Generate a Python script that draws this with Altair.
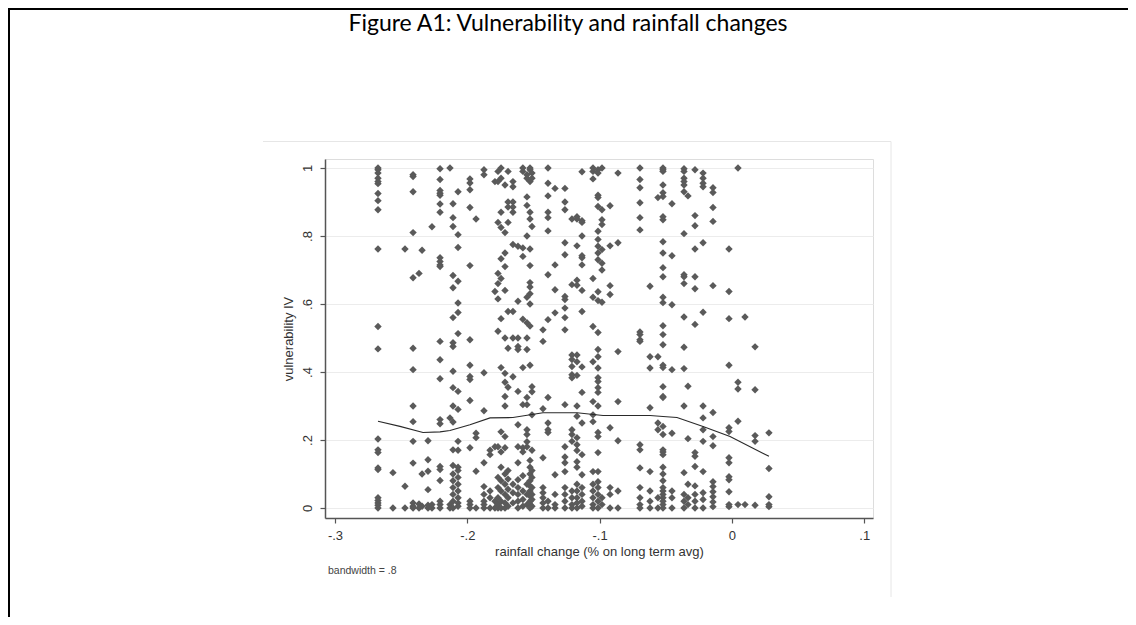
import altair as alt
import pandas as pd

# ---- scatter data: x position of each column of points and the vulnerability values in it
col_x = [-0.2675, -0.2562, -0.2471, -0.2410, -0.2365, -0.2342, -0.2297, -0.2267, -0.2206,
         -0.2131, -0.2108, -0.2070, -0.1980, -0.1934, -0.1874, -0.1828, -0.1791,
         -0.1768, -0.1745, -0.1715, -0.1692, -0.1655, -0.1617, -0.1580, -0.1549,
         -0.1526, -0.1511, -0.1428, -0.1390, -0.1337, -0.1262, -0.1209, -0.1171,
         -0.1133, -0.1050, -0.1012, -0.0982, -0.0921, -0.0861, -0.0695, -0.0619,
         -0.0559, -0.0521, -0.0453, -0.0362, -0.0332, -0.0279, -0.0218, -0.0143,
         -0.0022, 0.0046, 0.0099, 0.0175, 0.0280]

col_y = [
    [1.0, 0.995, 0.985, 0.97, 0.96, 0.954, 0.925, 0.904, 0.877, 0.762, 0.534, 0.468, 0.203, 0.171, 0.163, 0.118, 0.113, 0.03, 0.022, 0.015, 0.008, 0.0],
    [0.104, 0.0],
    [0.762, 0.064, 0.0],
    [0.98, 0.975, 0.93, 0.81, 0.677, 0.47, 0.407, 0.30, 0.254, 0.196, 0.132, 0.015, 0.005, 0.0],
    [0.69, 0.012, 0.0],
    [0.758, 0.10, 0.005],
    [0.198, 0.142, 0.108, 0.054, 0.0, 0.008],
    [0.827, 0.0, 0.01],
    [0.998, 0.966, 0.934, 0.926, 0.92, 0.894, 0.87, 0.736, 0.725, 0.715, 0.71, 0.49, 0.436, 0.38, 0.26, 0.248, 0.122, 0.113, 0.081, 0.02, 0.01, 0.0],
    [1.0, 0.265, 0.01, 0.0],
    [0.895, 0.854, 0.828, 0.684, 0.648, 0.56, 0.486, 0.475, 0.402, 0.354, 0.30, 0.253, 0.171, 0.125, 0.10, 0.08, 0.06, 0.04, 0.02, 0.0],
    [0.93, 0.804, 0.766, 0.667, 0.603, 0.575, 0.513, 0.343, 0.29, 0.196, 0.17, 0.12, 0.11, 0.09, 0.07, 0.05, 0.03, 0.015, 0.005],
    [0.968, 0.956, 0.936, 0.884, 0.713, 0.495, 0.42, 0.387, 0.378, 0.316, 0.177, 0.02, 0.01, 0.0],
    [0.85, 0.22, 0.207, 0.108, 0.0],
    [0.995, 0.98, 0.398, 0.286, 0.133, 0.063, 0.04, 0.02, 0.0, 0.01],
    [0.17, 0.157, 0.05, 0.03, 0.0],
    [0.96, 0.637, 0.18, 0.02, 0.0],
    [0.99, 0.96, 0.84, 0.69, 0.66, 0.615, 0.52, 0.18, 0.09, 0.06, 0.03, 0.01, 0.0],
    [1.0, 0.97, 0.87, 0.825, 0.733, 0.675, 0.557, 0.413, 0.224, 0.165, 0.12, 0.08, 0.05, 0.02, 0.0],
    [0.95, 0.81, 0.75, 0.71, 0.64, 0.5, 0.396, 0.37, 0.328, 0.3, 0.21, 0.177, 0.10, 0.07, 0.04, 0.015, 0.0],
    [0.99, 0.9, 0.885, 0.84, 0.578, 0.47, 0.355, 0.11, 0.085, 0.055, 0.03, 0.005],
    [0.9, 0.885, 0.87, 0.96, 0.945, 0.775, 0.578, 0.5, 0.386, 0.07, 0.045, 0.015],
    [0.77, 0.608, 0.5, 0.475, 0.466, 0.343, 0.245, 0.18, 0.133, 0.083, 0.06, 0.04, 0.02, 0.0],
    [1.0, 0.99, 0.765, 0.74, 0.555, 0.413, 0.304, 0.177, 0.165, 0.095, 0.05, 0.025, 0.005],
    [0.98, 0.97, 0.915, 0.89, 0.8, 0.62, 0.545, 0.5, 0.466, 0.325, 0.304, 0.23, 0.216, 0.195, 0.18, 0.07, 0.04, 0.01],
    [1.0, 0.995, 0.96, 0.87, 0.85, 0.762, 0.713, 0.663, 0.65, 0.63, 0.6, 0.535, 0.42, 0.14, 0.12, 0.10, 0.08, 0.065, 0.05, 0.035, 0.02, 0.01, 0.0],
    [0.985, 0.97, 0.828, 0.357, 0.342, 0.274, 0.17, 0.11, 0.09, 0.06, 0.04, 0.025, 0.005],
    [0.524, 0.49, 0.292, 0.148, 0.06, 0.045, 0.03, 0.015, 0.0],
    [1.0, 0.955, 0.918, 0.87, 0.854, 0.815, 0.686, 0.554, 0.325, 0.25, 0.23, 0.222, 0.02, 0.0],
    [0.94, 0.715, 0.642, 0.574, 0.098, 0.04, 0.01, 0.0],
    [0.94, 0.9, 0.877, 0.78, 0.745, 0.622, 0.613, 0.588, 0.56, 0.524, 0.304, 0.18, 0.15, 0.133, 0.107, 0.06, 0.04, 0.02, 0.0],
    [0.85, 0.657, 0.45, 0.437, 0.416, 0.392, 0.383, 0.23, 0.216, 0.196, 0.05, 0.03, 0.01, 0.0],
    [0.857, 0.85, 0.771, 0.67, 0.655, 0.45, 0.43, 0.39, 0.3, 0.27, 0.207, 0.186, 0.169, 0.136, 0.12, 0.07, 0.05, 0.03, 0.015, 0.0],
    [0.989, 0.845, 0.84, 0.8, 0.742, 0.736, 0.715, 0.64, 0.578, 0.415, 0.34, 0.25, 0.157, 0.098, 0.06, 0.04, 0.02, 0.005],
    [1.0, 0.99, 0.968, 0.675, 0.62, 0.534, 0.43, 0.313, 0.274, 0.254, 0.107, 0.07, 0.05, 0.03, 0.01, 0.0],
    [0.995, 0.985, 0.92, 0.913, 0.887, 0.814, 0.79, 0.77, 0.75, 0.73, 0.636, 0.61, 0.516, 0.466, 0.445, 0.412, 0.383, 0.372, 0.354, 0.34, 0.3, 0.222, 0.21, 0.163, 0.107, 0.077, 0.06, 0.04, 0.02, 0.0],
    [1.0, 0.877, 0.848, 0.834, 0.76, 0.72, 0.70, 0.605, 0.03, 0.01],
    [0.889, 0.771, 0.654, 0.628, 0.236, 0.06, 0.04, 0.0],
    [0.985, 0.78, 0.46, 0.313, 0.198, 0.05, 0.0],
    [1.0, 0.966, 0.942, 0.898, 0.854, 0.818, 0.518, 0.51, 0.495, 0.49, 0.186, 0.171, 0.118, 0.06, 0.03, 0.01, 0.0],
    [0.652, 0.445, 0.412, 0.295, 0.107, 0.05, 0.02, 0.0],
    [0.913, 0.445, 0.25, 0.23, 0.03, 0.0],
    [1.0, 0.995, 0.99, 0.95, 0.927, 0.916, 0.857, 0.848, 0.783, 0.75, 0.707, 0.68, 0.62, 0.604, 0.536, 0.51, 0.48, 0.42, 0.413, 0.357, 0.328, 0.325, 0.24, 0.216, 0.171, 0.165, 0.157, 0.12, 0.10, 0.08, 0.06, 0.05, 0.04, 0.03, 0.02, 0.01, 0.0],
    [0.895, 0.742, 0.598, 0.407, 0.22, 0.05, 0.03, 0.0],
    [0.998, 0.99, 0.97, 0.96, 0.95, 0.93, 0.807, 0.686, 0.68, 0.66, 0.562, 0.473, 0.41, 0.3, 0.104, 0.04, 0.02, 0.0],
    [0.918, 0.358, 0.204, 0.07, 0.03, 0.01],
    [0.995, 0.86, 0.83, 0.762, 0.68, 0.645, 0.54, 0.163, 0.152, 0.122, 0.065, 0.04, 0.02, 0.0],
    [0.985, 0.97, 0.955, 0.945, 0.78, 0.576, 0.3, 0.265, 0.23, 0.196, 0.107, 0.045, 0.025, 0.0],
    [0.942, 0.928, 0.884, 0.843, 0.654, 0.281, 0.21, 0.183, 0.077, 0.063, 0.048, 0.033, 0.018, 0.004],
    [0.762, 0.637, 0.557, 0.42, 0.236, 0.225, 0.148, 0.133, 0.092, 0.083, 0.048, 0.01, 0.004],
    [1.0, 0.37, 0.35, 0.255, 0.01],
    [0.562, 0.01],
    [0.474, 0.348, 0.213, 0.196, 0.008],
    [0.221, 0.116, 0.033, 0.01, 0.004],
]

# ---- lowess smoother (bandwidth = .8)
line_x = [-0.2675, -0.2509, -0.2335, -0.2206, -0.2131, -0.1980, -0.1828, -0.1655,
          -0.1428, -0.1171, -0.0974, -0.0619, -0.0521, -0.0415, -0.0218, -0.0014, 0.0280]
line_y = [0.255, 0.240, 0.222, 0.224, 0.228, 0.245, 0.265, 0.266,
          0.280, 0.280, 0.272, 0.272, 0.269, 0.266, 0.240, 0.210, 0.152]

x_ticks = [-0.3, -0.2, -0.1, 0.0, 0.1]
y_ticks = [0.0, 0.2, 0.4, 0.6, 0.8, 1.0]

pts = pd.DataFrame([{"x": x, "y": y} for x, ys in zip(col_x, col_y) for y in ys])
lowess = pd.DataFrame({"x": line_x, "y": line_y})
one = pd.DataFrame({"a": [0]})

W, H = 548, 359
FONT = "Liberation Sans"

xscale = alt.Scale(domain=[-0.30756, 0.10665], nice=False, zero=False)
yscale = alt.Scale(domain=[-0.0294, 1.0265], nice=False, zero=False)

xaxis = alt.Axis(
    values=x_ticks, grid=False, title="rainfall change (% on long term avg)",
    labelExpr="datum.value == 0 ? '0' : (datum.value < 0 ? '-' : '') + '.' + round(abs(datum.value) * 10)",
    tickSize=5, labelPadding=6, titlePadding=3, labelFont=FONT, titleFont=FONT,
    labelFontSize=13, titleFontSize=13, titleFontWeight="normal",
    labelColor="#333333", titleColor="#333333", domainColor="#555555", tickColor="#555555",
    domainWidth=1.5, tickWidth=1.2)
yaxis = alt.Axis(
    values=y_ticks, grid=True, gridColor="#ececec", gridWidth=1.2, title="vulnerability IV",
    labelExpr="datum.value == 0 ? '0' : (datum.value == 1 ? '1' : '.' + round(datum.value * 10))",
    labelAngle=270, labelAlign="center", labelBaseline="alphabetic",
    tickSize=5, labelPadding=9, titlePadding=6, labelFont=FONT, titleFont=FONT,
    labelFontSize=13, titleFontSize=13, titleFontWeight="normal",
    labelColor="#333333", titleColor="#333333", domainColor="#555555", tickColor="#555555",
    domainWidth=1.5, tickWidth=1.2)

scatter = alt.Chart(pts).mark_point(
    shape="diamond", filled=True, size=55, color="#5a5a5a", opacity=1
).encode(
    x=alt.X("x:Q", scale=xscale, axis=xaxis),
    y=alt.Y("y:Q", scale=yscale, axis=yaxis),
)

line = alt.Chart(lowess).mark_line(color="#2a2a2a", strokeWidth=1.1).encode(
    x=alt.X("x:Q", scale=xscale), y=alt.Y("y:Q", scale=yscale)
)

# plot area origin is at page (325, 159)
title = alt.Chart(one).mark_text(
    text="Figure A1: Vulnerability and rainfall changes", font="Lato", fontSize=23,
    color="#000000", align="center", baseline="middle"
).encode(x=alt.value(243), y=alt.value(-135))

note = alt.Chart(one).mark_text(
    text="bandwidth = .8", font=FONT, fontSize=10.5, color="#444444",
    align="left", baseline="middle"
).encode(x=alt.value(3), y=alt.value(412))

box_top = alt.Chart(one).mark_rule(color="#e6e6e6", strokeWidth=1).encode(
    x=alt.value(-62), x2=alt.value(566), y=alt.value(-17.5))
box_right = alt.Chart(one).mark_rule(color="#e6e6e6", strokeWidth=1).encode(
    x=alt.value(566), y=alt.value(-17.5), y2=alt.value(438))

frame_top = alt.Chart(one).mark_rule(color="#000000", strokeWidth=2).encode(
    x=alt.value(-317), x2=alt.value(803), y=alt.value(-150))
frame_left = alt.Chart(one).mark_rule(color="#000000", strokeWidth=2).encode(
    x=alt.value(-316), y=alt.value(-151), y2=alt.value(458))

chart = alt.layer(
    box_top, box_right, frame_top, frame_left, scatter, line, title, note
).properties(
    width=W, height=H,
    autosize=alt.AutoSizeParams(type="none"),
    padding={"left": 317, "top": 151, "right": 255, "bottom": 99},
).configure_view(stroke=None).configure(background="white")

chart.save("out.html", embed_options={"renderer": "svg", "actions": False})
